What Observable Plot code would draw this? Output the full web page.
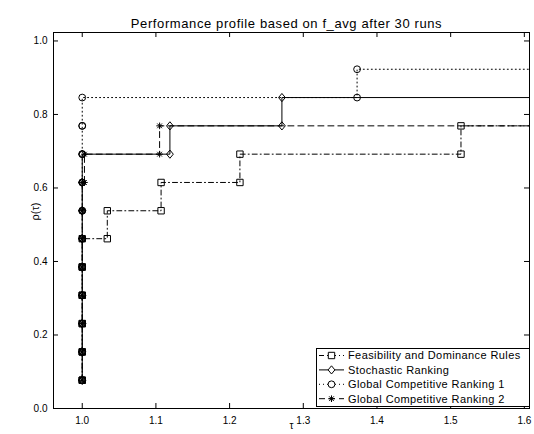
<!DOCTYPE html>
<html><head><meta charset="utf-8">
<script src="https://cdn.jsdelivr.net/npm/d3@7"></script>
<script src="https://cdn.jsdelivr.net/npm/@observablehq/plot@0.6"></script>
<style>
body{margin:0;background:#fff;font-family:"Liberation Sans",Arial,sans-serif;}
#wrap{position:relative;width:534px;height:434px;}
#legend{position:absolute;left:316px;top:348px;}
</style></head><body><div id="wrap"></div>
<script>
const title = "Performance profile based on f_avg after 30 runs";
const xLabel = "τ";
const yLabel = "ρ(τ)";
const seriesNames = ["Feasibility and Dominance Rules", "Stochastic Ranking", "Global Competitive Ranking 1", "Global Competitive Ranking 2"];
const seriesSymbols = ["square", "diamond", "circle", "asterisk"];
const seriesDash = ["5,3,1,3", null, "1,3", "6,4"];

// performance ratios τ of the solved problems (sorted) and profile values ρ(τ)
const fdTau  = [1, 1, 1, 1, 1, 1, 1.034, 1.107, 1.214, 1.514];
const fdRho  = [0.077, 0.154, 0.231, 0.308, 0.385, 0.462, 0.538, 0.615, 0.692, 0.769];
const srTau  = [1, 1, 1, 1, 1, 1, 1, 1, 1, 1.119, 1.271];
const srRho  = [0.077, 0.154, 0.231, 0.308, 0.385, 0.462, 0.538, 0.615, 0.692, 0.769, 0.846];
const gc1Tau = [1, 1, 1, 1, 1, 1, 1, 1, 1, 1, 1, 1.373];
const gc1Rho = [0.077, 0.154, 0.231, 0.308, 0.385, 0.462, 0.538, 0.615, 0.692, 0.769, 0.846, 0.923];
const gc2Tau = [1, 1, 1, 1, 1, 1, 1, 1, 1.003, 1.105];
const gc2Rho = [0.077, 0.154, 0.231, 0.308, 0.385, 0.462, 0.538, 0.615, 0.692, 0.769];
const tauFail = 1.75; // unsolved problems: ratio beyond the axis

const xDomain = [0.961, 1.607];
const yDomain = [0, 1.023];
const xTicks = [1.0, 1.1, 1.2, 1.3, 1.4, 1.5, 1.6];
const yTicks = [0.0, 0.2, 0.4, 0.6, 0.8, 1.0];

const W = 534, H = 434, mL = 53, mR = 5, mT = 32, mB = 26;
const plotW = W - mL - mR, plotH = H - mT - mB;

// marker shapes (MATLAB-like)
const symDefs = {
  square: {draw(c, s) { const h = 3.2; c.rect(-h, -h, 2 * h, 2 * h); }},
  diamond: {draw(c, s) { const w = 3.4, h = 4.1; c.moveTo(0, -h); c.lineTo(w, 0); c.lineTo(0, h); c.lineTo(-w, 0); c.closePath(); }},
  circle: {draw(c, s) { const r = 3.4; c.moveTo(r, 0); c.arc(0, 0, r, 0, 2 * Math.PI); }},
  asterisk: {draw(c, s) { const r = 3.3, d = r * Math.SQRT1_2; c.moveTo(-r, 0); c.lineTo(r, 0); c.moveTo(0, -r); c.lineTo(0, r); c.moveTo(-d, -d); c.lineTo(d, d); c.moveTo(-d, d); c.lineTo(d, -d); }}
};

function stairs(tau, rho) {
  const pts = [{x: tau[0], y: rho[0]}];
  for (let i = 1; i < tau.length; i++) {
    pts.push({x: tau[i], y: rho[i - 1]});
    pts.push({x: tau[i], y: rho[i]});
  }
  pts.push({x: tauFail, y: rho[rho.length - 1], end: true});
  return pts;
}
const series = [stairs(fdTau, fdRho), stairs(srTau, srRho), stairs(gc1Tau, gc1Rho), stairs(gc2Tau, gc2Rho)];

const marks = [];
series.forEach((pts, k) => {
  marks.push(Plot.line(pts, {x: "x", y: "y", stroke: "black", strokeWidth: 1, strokeDasharray: seriesDash[k], clip: true}));
});
series.forEach((pts, k) => {
  marks.push(Plot.dot(pts.filter(d => !d.end), {x: "x", y: "y", symbol: symDefs[seriesSymbols[k]], r: 3, stroke: "black", strokeWidth: 1, fill: "none", clip: true}));
});

const chart = Plot.plot({
  width: W, height: H,
  marginLeft: mL, marginRight: mR, marginTop: mT, marginBottom: mB,
  style: {fontFamily: "'Liberation Sans', Arial, sans-serif", fontSize: "10px", background: "white", color: "black"},
  x: {domain: xDomain, axis: null},
  y: {domain: yDomain, axis: null},
  marks: [
    ...marks,
    Plot.tickX(xTicks, {x: d => d, stroke: "black", insetTop: plotH - 5}),
    Plot.tickX(xTicks, {x: d => d, stroke: "black", insetBottom: plotH - 5}),
    Plot.tickY(yTicks, {y: d => d, stroke: "black", insetRight: plotW - 5}),
    Plot.tickY(yTicks, {y: d => d, stroke: "black", insetLeft: plotW - 5}),
    Plot.axisX(xTicks, {anchor: "bottom", tickSize: 0, tickPadding: 8, tickFormat: d3.format(".1f"), label: null, fill: "black"}),
    Plot.axisY(yTicks, {anchor: "left", tickSize: 0, tickPadding: 6, tickFormat: d3.format(".1f"), label: null, fill: "black"}),
    Plot.frame({stroke: "black", strokeWidth: 1}),
    Plot.text([title], {text: d => d, frameAnchor: "top", dy: -14, dx: -5, fontSize: 13, fill: "black"}),
    Plot.text([xLabel], {text: d => d, frameAnchor: "bottom", dy: 20, fontSize: 10, fill: "black"}),
    Plot.text([yLabel], {text: d => d, frameAnchor: "left", dx: -18, rotate: -90, fontSize: 11, fill: "black"})
  ]
});
d3.select(chart).selectAll("text").filter(function() { return this.textContent === title; }).style("letter-spacing", "0.6px");
document.getElementById("wrap").appendChild(chart);

// legend
const lw = 214, lh = 59;
const leg = d3.create("svg").attr("id", "legend").attr("width", lw).attr("height", lh)
  .style("font-family", "'Liberation Sans', Arial, sans-serif").style("font-size", "11px").style("letter-spacing", "0.4px");
leg.append("rect").attr("x", 0.5).attr("y", 0.5).attr("width", lw - 1).attr("height", lh - 1).attr("fill", "white").attr("stroke", "black");
seriesNames.forEach((name, k) => {
  const cy = 7.5 + k * 14.4;
  const g = leg.append("g").attr("transform", `translate(0,${cy})`);
  g.append("line").attr("x1", 3).attr("x2", 28).attr("y1", 0).attr("y2", 0).attr("stroke", "black").attr("stroke-dasharray", seriesDash[k]);
  g.append("path").attr("transform", "translate(15.5,0)").attr("d", d3.symbol(symDefs[seriesSymbols[k]], 30)()).attr("fill", "white").attr("stroke", "black");
  g.append("text").attr("x", 32).attr("y", 0).attr("dy", "0.35em").text(name);
});
document.getElementById("wrap").appendChild(leg.node());
</script>
</body></html>
